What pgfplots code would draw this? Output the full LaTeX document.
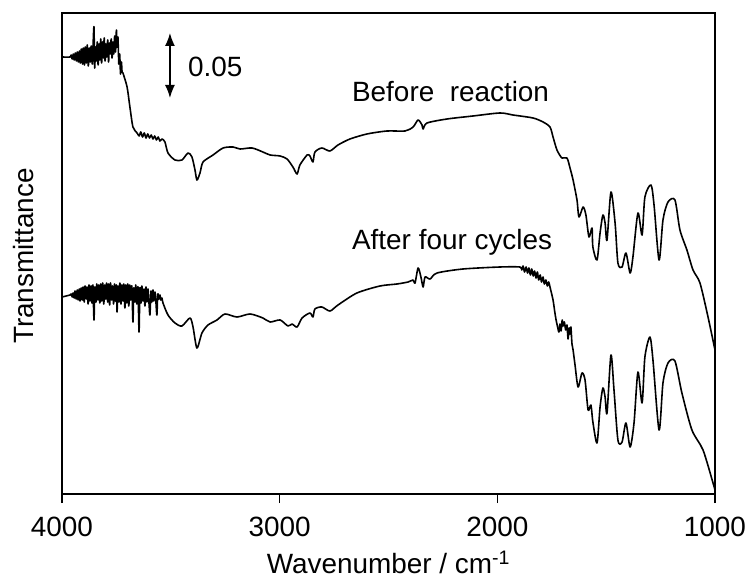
\documentclass[border=0pt]{standalone}
\usepackage{fontspec}
\setmainfont{Liberation Sans}
\usepackage{pgfplots}
\pgfplotsset{compat=1.18}
\usetikzlibrary{arrows.meta}
\newcommand{\bigf}{\fontsize{28}{33}\selectfont}
\begin{document}
\begin{tikzpicture}
\begin{axis}[
  at={(0,0)}, anchor=south west,
  scale only axis, width=653bp, height=481bp,
  x dir=reverse, xmin=1000, xmax=4000, ymin=0, ymax=481,
  xtick={1000,2000,3000,4000}, ytick=\empty,
  xtick pos=bottom, tick align=outside, major tick length=9bp,
  axis line style={line width=1.2bp}, tick style={line width=1.2bp, black},
  /pgf/number format/assume math mode=true,
  /pgf/number format/1000 sep={},
  tick label style={font=\bigf},
  xticklabel style={yshift=-10bp},
  label style={font=\bigf},
  xlabel={Wavenumber / cm\textsuperscript{-1}},
  x label style={at={(axis description cs:0.5,0)}, anchor=base, yshift=-79bp},
]
% Before reaction
\addplot[black, no marks, smooth, tension=0.45, line width=1.6bp, line join=round] table {
4000 437
3963 437
3958 439
3953 435
3948 440
3944 434
3939 441
3934 433
3930 442
3925 432
3920 443
3916 431
3911 445
3906 430
3902 446
3897 429
3893 447
3888 431
3884 449
3879 428
3875 446
3870 432
3866 448
3861 430
3857 450
3853 467
3850 426
3846 447
3842 433
3838 452
3834 429
3830 450
3826 434
3822 455
3818 431
3814 452
3810 436
3806 456
3802 433
3798 450
3794 437
3790 454
3786 432
3782 451
3778 440
3774 455
3770 436
3766 452
3762 440
3758 458
3754 442
3750 464
3747 447
3743 457
3739 430
3735 440
3731 420
3727 432
3724 422
3720 421
3701 407
3688 387
3674 367
3655 361
3645 358
3638 362
3630 357
3622 361
3614 356
3606 360
3598 356
3590 359
3582 355
3574 358
3566 354
3558 357
3550 353
3540 355
3527 352
3513 341
3481 334
3449 334
3421 341
3403 337
3389 324
3380 314
3366 321
3352 332
3306 339
3260 346
3214 347
3182 345
3127 346
3077 342
3044 339
2998 338
2966 335
2939 327
2920 320
2907 329
2874 339
2861 338
2847 332
2838 342
2806 346
2769 343
2732 349
2677 355
2599 360
2507 363
2424 363
2387 367
2364 374
2346 369
2341 365
2323 371
2231 375
2112 378
1988 381
1928 379
1836 376
1790 372
1758 367
1744 357
1726 344
1703 336
1680 336
1666 326
1652 314
1634 294
1625 277
1606 287
1593 279
1579 257
1565 266
1561 247
1542 234
1528 261
1515 279
1505 271
1496 254
1478 302
1459 271
1446 231
1427 227
1409 241
1390 221
1377 237
1354 281
1335 259
1322 297
1294 309
1280 289
1257 234
1239 274
1216 292
1184 294
1161 264
1129 244
1101 224
1069 211
1032 177
1000 144
};
% After four cycles
\addplot[black, no marks, smooth, tension=0.45, line width=1.6bp, line join=round] table {
4000 197
3963 199
3958 200
3953 197
3949 201
3944 196
3940 203
3935 195
3930 204
3926 194
3921 205
3917 193
3912 206
3907 194
3903 207
3898 192
3894 208
3889 195
3885 207
3880 190
3876 209
3871 193
3867 208
3862 191
3858 209
3853 174
3849 207
3844 192
3840 210
3835 194
3831 209
3826 191
3822 210
3817 193
3813 211
3808 190
3804 209
3799 195
3795 211
3790 192
3786 210
3781 189
3777 211
3772 194
3768 208
3763 190
3759 210
3754 193
3750 209
3747 182
3743 208
3738 192
3734 211
3729 190
3725 209
3720 193
3716 210
3711 186
3707 209
3702 191
3698 210
3693 188
3689 209
3684 194
3679 208
3674 172
3670 206
3665 192
3661 209
3656 190
3651 207
3646 162
3642 206
3637 191
3633 208
3628 193
3623 205
3619 188
3614 207
3610 192
3605 205
3600 190
3596 179
3591 203
3587 192
3582 204
3578 193
3573 202
3569 194
3564 179
3560 200
3555 195
3550 199
3546 194
3541 196
3536 191
3513 179
3481 171
3449 168
3412 176
3398 167
3380 146
3357 161
3329 169
3288 174
3251 180
3196 177
3136 180
3077 176
3044 172
2998 174
2962 168
2943 170
2920 167
2897 176
2861 181
2847 177
2838 185
2806 187
2769 183
2732 189
2645 201
2539 208
2461 210
2410 212
2387 214
2378 211
2364 226
2351 217
2341 207
2332 217
2309 215
2277 221
2158 225
1988 227
1896 227
1888 224
1882 228
1875 222
1868 227
1861 221
1855 226
1848 219
1842 225
1835 218
1829 223
1822 216
1816 222
1810 214
1803 219
1797 212
1790 217
1784 210
1777 214
1770 208
1764 212
1758 207
1744 194
1736 182
1730 174
1724 168
1717 162
1712 170
1707 163
1702 174
1698 168
1692 172
1686 164
1680 169
1675 155
1670 166
1666 160
1662 167
1657 150
1652 144
1643 129
1629 107
1611 121
1597 114
1583 84
1570 89
1561 72
1542 51
1528 87
1515 106
1505 97
1496 81
1478 139
1464 104
1446 54
1427 52
1409 71
1390 47
1372 71
1354 122
1335 91
1322 137
1299 157
1285 134
1257 64
1239 111
1216 131
1184 133
1152 101
1106 64
1055 44
1009 11
1000 4
};
\draw[line width=1.4bp, {Latex[length=13bp,width=10bp]}-{Latex[length=13bp,width=10bp]}] (axis cs:3504,461) -- (axis cs:3504,396);
\node[font=\bigf, anchor=base west, inner sep=0pt] at (axis cs:3421,417) {0.05};
\node[font=\bigf, anchor=base west, inner sep=0pt] at (axis cs:2668,392) {Before\ \ reaction};
\node[font=\bigf, anchor=base west, inner sep=0pt] at (axis cs:2668,244) {After\ four\ cycles};
\end{axis}
\node[font=\bigf, rotate=90, anchor=base, inner sep=0pt] at (-29bp,238bp) {Transmittance};
\pgfresetboundingbox
\path (-62bp,-85bp) rectangle (688bp,494bp);
\end{tikzpicture}
\end{document}
